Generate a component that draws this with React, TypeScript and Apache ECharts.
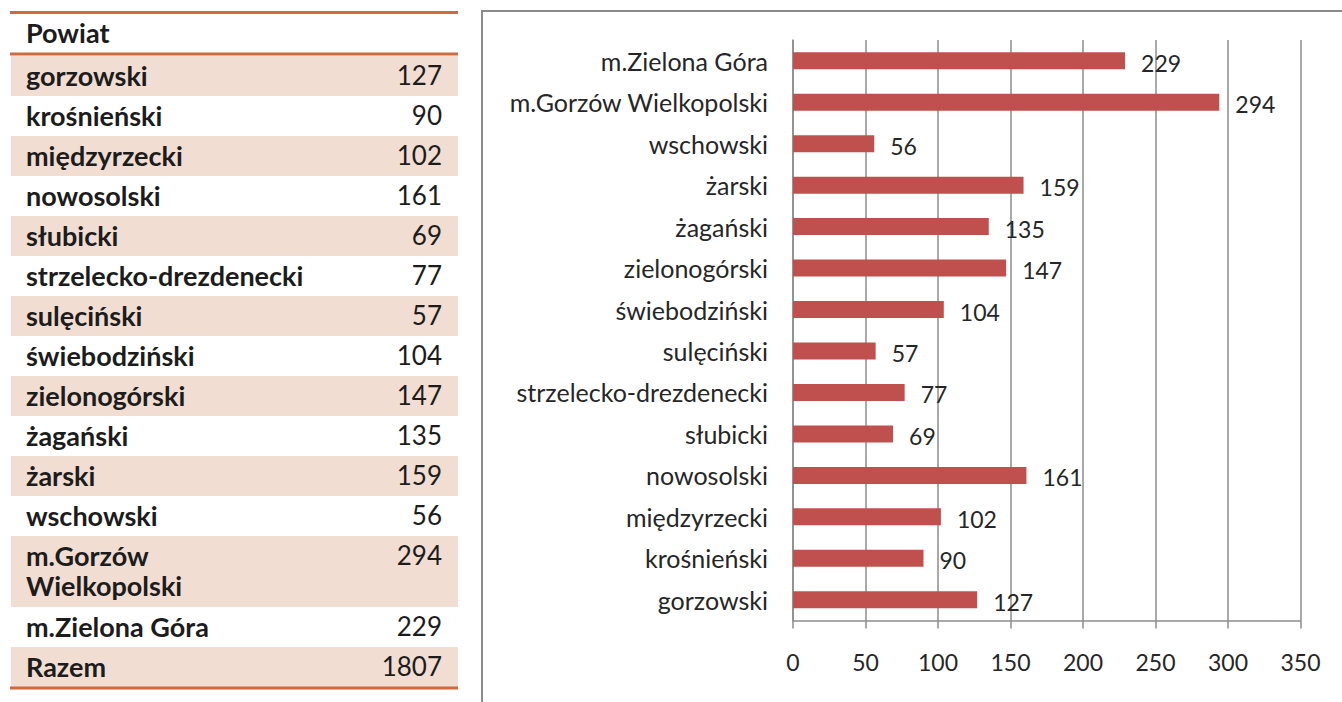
import React, { useEffect, useRef } from 'react';
import * as echarts from 'echarts';

// ---- data ----
const districts = [
  'gorzowski',
  'krośnieński',
  'międzyrzecki',
  'nowosolski',
  'słubicki',
  'strzelecko-drezdenecki',
  'sulęciński',
  'świebodziński',
  'zielonogórski',
  'żagański',
  'żarski',
  'wschowski',
  'm.Gorzów Wielkopolski',
  'm.Zielona Góra',
];
const counts = [127, 90, 102, 161, 69, 77, 57, 104, 147, 135, 159, 56, 294, 229];
const tableLabels = [
  'gorzowski',
  'krośnieński',
  'międzyrzecki',
  'nowosolski',
  'słubicki',
  'strzelecko-drezdenecki',
  'sulęciński',
  'świebodziński',
  'zielonogórski',
  'żagański',
  'żarski',
  'wschowski',
  'm.Gorzów\nWielkopolski',
  'm.Zielona Góra',
];
const headerLabel = 'Powiat';
const totalLabel = 'Razem';
const totalValue = 1807;
const xMin = 0;
const xMax = 350;
const xInterval = 50;

const FONT = 'Lato, "Open Sans", sans-serif';

function buildTable(): any[] {
  const els: any[] = [];
  const orange = '#D0693C';
  const shade = '#F2DDD2';
  const textColor = '#1c1c1c';
  const left = 11;
  const width = 447;
  const textX = 26;
  const numX = 442;
  const rows = tableLabels.map((l, i) => ({ label: l, value: String(counts[i]) }));
  rows.push({ label: totalLabel, value: String(totalValue) });
  let y = 56;
  rows.forEach((r, i) => {
    const lines = r.label.split('\n');
    const h = 40 + (lines.length - 1) * 31;
    if (i % 2 === 0) {
      els.push({ type: 'rect', shape: { x: left, y, width, height: h }, style: { fill: shade }, z: 1 });
    }
    lines.forEach((ln, k) => {
      els.push({
        type: 'text', x: textX, y: y + 19 + k * 30, z: 3,
        style: { text: ln, fontFamily: FONT, fontSize: 27, fontWeight: 'bold', fill: textColor, textAlign: 'left', textVerticalAlign: 'middle' },
      });
    });
    els.push({
      type: 'text', x: numX, y: y + 19, z: 3,
      style: { text: r.value, fontFamily: FONT, fontSize: 26, fontWeight: 'normal', fill: textColor, textAlign: 'right', textVerticalAlign: 'middle' },
    });
    y += h;
  });
  els.push({
    type: 'text', x: textX, y: 32, z: 3,
    style: { text: headerLabel, fontFamily: FONT, fontSize: 27, fontWeight: 'bold', fill: textColor, textAlign: 'left', textVerticalAlign: 'middle' },
  });
  [12.5, 54, 688].forEach((ly) => {
    els.push({ type: 'line', shape: { x1: 10, y1: ly, x2: 458, y2: ly }, style: { stroke: orange, lineWidth: 3 }, z: 4 });
  });
  // chart frame
  els.push({ type: 'line', shape: { x1: 482, y1: 11, x2: 1342, y2: 11 }, style: { stroke: '#8a8a8a', lineWidth: 2 }, z: 4 });
  els.push({ type: 'line', shape: { x1: 482, y1: 10, x2: 482, y2: 702 }, style: { stroke: '#8a8a8a', lineWidth: 2 }, z: 4 });
  return els;
}

export default function App() {
  const ref = useRef<HTMLDivElement>(null);
  useEffect(() => {
    document.body.style.margin = '0';
    if (!ref.current) return;
    const chart = echarts.init(ref.current, undefined, { renderer: 'svg' });
    const gridColor = '#8c8c8c';
    chart.setOption({
      animation: false,
      backgroundColor: '#ffffff',
      graphic: { elements: buildTable() },
      grid: { left: 793, right: 41.5, top: 40, bottom: 81.5, containLabel: false },
      xAxis: {
        type: 'value',
        min: xMin,
        max: xMax,
        interval: xInterval,
        axisLine: { show: true, lineStyle: { color: gridColor, width: 1.5 } },
        axisTick: { show: true, length: 8, lineStyle: { color: gridColor, width: 1.5 } },
        splitLine: { show: true, lineStyle: { color: gridColor, width: 1.5 } },
        axisLabel: { color: '#262626', fontFamily: FONT, fontSize: 23, margin: 30 },
      },
      yAxis: {
        type: 'category',
        data: districts,
        axisLine: { show: true, lineStyle: { color: gridColor, width: 1.5 } },
        axisTick: { show: false },
        axisLabel: { color: '#262626', fontFamily: FONT, fontSize: 25, margin: 25 },
      },
      series: [
        {
          type: 'bar',
          data: counts,
          barWidth: 17,
          itemStyle: { color: '#C0504D' },
          label: { show: true, position: 'right', distance: 16, color: '#262626', fontFamily: FONT, fontSize: 23, offset: [0, 2] },
        },
      ],
    });
    return () => chart.dispose();
  }, []);
  return <div ref={ref} style={{ width: 1342, height: 702 }} />;
}
